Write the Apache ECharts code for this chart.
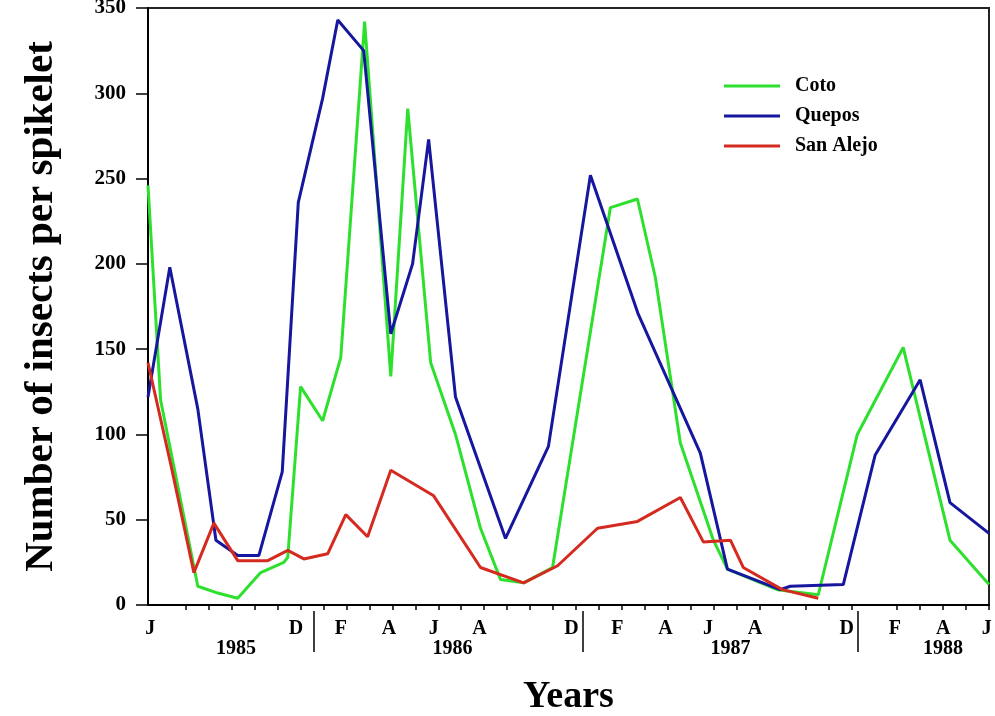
<!DOCTYPE html>
<html>
<head>
<meta charset="utf-8">
<script src="https://cdn.jsdelivr.net/npm/echarts@6/dist/echarts.min.js"></script>
<style>
html,body{margin:0;padding:0;background:#fff;}
#chart{width:995px;height:716px;}
</style>
</head>
<body>
<div id="chart"></div>
<script>
// x values are month positions: 1 = July 1985 ... 36 = June 1988
const cotoX = [-0.65, -0.1, 1.52, 2.39, 3.26, 4.26, 5.27, 5.44, 6.0, 6.96, 7.75, 8.79, 9.93, 10.67, 11.67, 12.75, 13.84, 14.71, 15.72, 16.98, 19.5, 20.68, 21.46, 22.55, 23.99, 24.6, 26.77, 28.56, 30.26, 32.26, 34.3, 36];
const cotoY = [246, 120, 11, 7, 4, 19, 25, 28, 128, 108, 145, 342, 134, 291, 142, 100, 45, 15, 13, 22, 233, 238, 192, 95, 38, 21, 9, 6, 100, 151, 38, 12];

const queposX = [-0.65, 0.30, 1.52, 2.31, 3.26, 4.18, 5.2, 5.9, 6.96, 7.62, 8.75, 9.93, 10.88, 11.58, 12.75, 14.93, 16.8, 18.63, 20.7, 23.42, 24.6, 26.9, 27.34, 29.65, 31.04, 33.0, 34.3, 36];
const queposY = [122, 198, 115, 38, 29, 29, 78, 236, 297, 343, 325, 159, 200, 273, 122, 39, 93, 252, 171, 89, 21, 9, 11, 12, 88, 132, 60, 42];

const alejoX = [-0.65, 0.35, 1.35, 2.22, 3.26, 4.57, 5.44, 6.14, 7.18, 7.97, 8.92, 9.93, 11.8, 13.84, 15.72, 17.2, 18.94, 20.68, 22.55, 23.55, 24.73, 25.29, 26.99, 28.56];
const alejoY = [142, 82, 19, 48, 26, 26, 32, 27, 30, 53, 40, 79, 64, 22, 13, 23, 45, 49, 63, 37, 38, 22, 9, 4];

const seriesNames = ['Coto', 'Quepos', 'San Alejo'];

const tickMonths = [1,2,3,4,5,6,7,8,9,10,11,12,13,14,15,16,17,18,19,20,21,22,23,24,25,26,27,28,29,30,32,33,34,35,36];
const monthLabelPos = [-0.55, 5.8, 7.75, 9.85, 11.8, 13.8, 17.8, 19.8, 21.9, 23.75, 25.8, 29.8, 31.9, 34, 35.9];
const monthLabelText = ['J', 'D', 'F', 'A', 'J', 'A', 'D', 'F', 'A', 'J', 'A', 'D', 'F', 'A', 'J'];
const yearLabelPos = [3.18, 12.62, 24.73, 34.0];
const yearLabelText = ['1985', '1986', '1987', '1988'];
const yearDividerPos = [6.57, 18.28, 30.3];
const yTicks = { min: 0, max: 350, interval: 50 };

const FONT = 'Liberation Serif';
const zip = (xs, ys) => xs.map((x, i) => [x, ys[i]]);
const colors = ['#2EE02E', '#16169E', '#D42A20'];

const chart = echarts.init(document.getElementById('chart'), null, { renderer: 'canvas' });

const baseX = {
  type: 'value', min: -0.65, max: 36, position: 'bottom', offset: 0,
  splitLine: { show: false }
};

chart.setOption({
  animation: false,
  backgroundColor: '#fff',
  grid: { left: 148, right: 6, top: 8, bottom: 111, show: true, borderColor: '#222', borderWidth: 2,
          containLabel: false, outerBoundsMode: 'none' },
  legend: {
    data: seriesNames,
    orient: 'vertical',
    left: 719, top: 71,
    icon: 'rect',
    itemWidth: 56, itemHeight: 3, itemGap: 10,
    textStyle: { fontFamily: FONT, fontWeight: 'bold', fontSize: 20, color: '#000', padding: [0, 0, 0, 10] }
  },
  xAxis: [
    Object.assign({}, baseX, {
      name: 'Years', nameLocation: 'middle', nameGap: 73,
      nameTextStyle: { fontFamily: FONT, fontWeight: 'bold', fontSize: 38, color: '#000' },
      axisLine: { show: true, onZero: false, lineStyle: { color: '#000', width: 2 } },
      axisTick: { show: true, customValues: tickMonths, length: 5, lineStyle: { color: '#000', width: 1.5 } },
      axisLabel: {
        show: true, customValues: monthLabelPos, margin: 14,
        fontFamily: FONT, fontWeight: 'bold', fontSize: 20, color: '#000',
        formatter: (v) => monthLabelText[monthLabelPos.indexOf(v)] || ''
      }
    }),
    Object.assign({}, baseX, {
      axisLine: { show: false, onZero: false },
      axisTick: { show: false },
      axisLabel: {
        show: true, customValues: yearLabelPos, margin: 34,
        fontFamily: FONT, fontWeight: 'bold', fontSize: 20, color: '#000',
        formatter: (v) => yearLabelText[yearLabelPos.indexOf(v)] || ''
      }
    }),
    Object.assign({}, baseX, {
      offset: 6,
      axisLine: { show: false, onZero: false },
      axisTick: { show: true, customValues: yearDividerPos, length: 41, lineStyle: { color: '#000', width: 1.5 } },
      axisLabel: { show: false }
    })
  ],
  yAxis: {
    type: 'value', min: yTicks.min, max: yTicks.max, interval: yTicks.interval,
    name: 'Number of insects per spikelet', nameLocation: 'middle', nameGap: 86,
    nameTextStyle: { fontFamily: FONT, fontWeight: 'bold', fontSize: 41, color: '#000' },
    axisLine: { show: true, onZero: false, lineStyle: { color: '#000', width: 2 } },
    axisTick: { show: true, length: 12, lineStyle: { color: '#000', width: 1.5 } },
    axisLabel: { margin: 22, fontFamily: FONT, fontWeight: 'bold', fontSize: 21, color: '#000' },
    splitLine: { show: false }
  },
  series: [
    { name: seriesNames[0], type: 'line', data: zip(cotoX, cotoY), symbol: 'none', color: colors[0], lineStyle: { width: 3, color: colors[0] } },
    { name: seriesNames[1], type: 'line', data: zip(queposX, queposY), symbol: 'none', color: colors[1], lineStyle: { width: 3, color: colors[1] } },
    { name: seriesNames[2], type: 'line', data: zip(alejoX, alejoY), symbol: 'none', color: colors[2], lineStyle: { width: 3, color: colors[2] } }
  ]
});
</script>
</body>
</html>
